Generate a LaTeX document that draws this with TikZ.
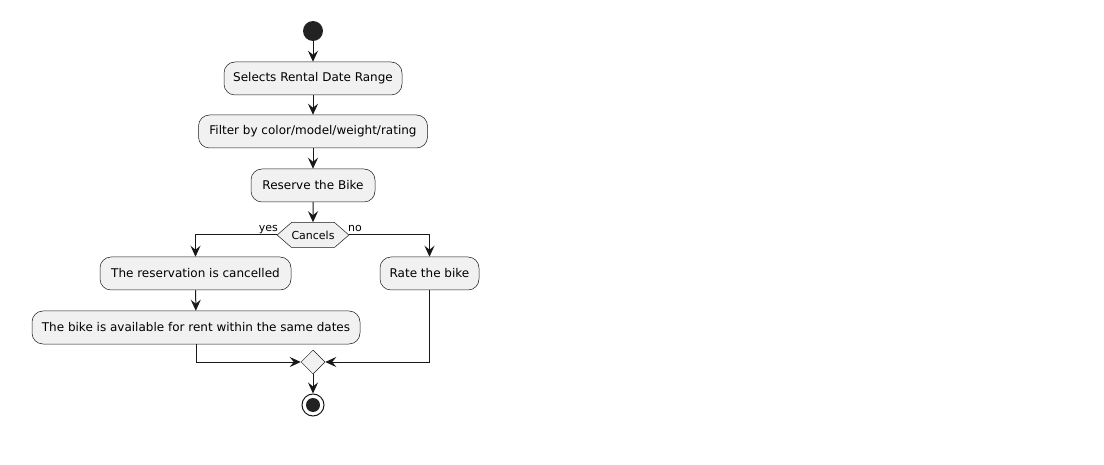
\documentclass[tikz,border=0pt]{standalone}
\usepackage{fontspec}
\setmainfont{DejaVu Sans}
\usetikzlibrary{arrows.meta,shapes.geometric,shapes.symbols}
\definecolor{boxfill}{HTML}{F1F1F1}
\definecolor{boxline}{HTML}{181818}
\definecolor{dotfill}{HTML}{222222}
\begin{document}
\begin{tikzpicture}[x=1pt,y=-1pt,
  act/.style={draw=boxline,fill=boxfill,line width=0.5pt,rounded corners=11pt,minimum height=33pt,inner xsep=0pt,font=\fontsize{12}{14}\selectfont},
  hexa/.style={draw=boxline,fill=boxfill,line width=0.5pt,signal,signal to=west and east,signal pointer angle=82,minimum height=25pt,minimum width=68pt,inner xsep=0pt,inner ysep=0pt,font=\fontsize{11}{13}\selectfont},
  merge/.style={draw=boxline,fill=boxfill,line width=0.5pt,diamond,minimum size=24pt,inner sep=0pt},
  conn/.style={draw=boxline,line width=1pt,-{Stealth[length=11pt,width=10pt,inset=4pt]}},
  lbl/.style={font=\fontsize{11}{13}\selectfont,inner sep=0pt}]
\useasboundingbox (0,0) rectangle (1104,465);
\node[circle,fill=dotfill,minimum size=20pt,inner sep=0pt] (start) at (313,31) {};
\node[act,minimum width=178pt] (sel) at (313,78.5) {Selects Rental Date Range};
\node[act,minimum width=229pt] (fil) at (313,131.5) {Filter by color/model/weight/rating};
\node[act,minimum width=124pt] (res) at (313,185.5) {Reserve the Bike};
\node[hexa] (dec) at (313,235) {Cancels};
\node[act,minimum width=191pt] (can) at (195.5,273.5) {The reservation is cancelled};
\node[act,minimum width=328pt] (avl) at (196,327.5) {The bike is available for rent within the same dates};
\node[act,minimum width=99pt] (rate) at (429.5,273.5) {Rate the bike};
\node[merge] (mrg) at (313,362) {};
\node[circle,draw=boxline,line width=1pt,fill=white,minimum size=22pt,inner sep=0pt] (stop) at (313,405) {};
\node[circle,fill=dotfill,minimum size=14pt,inner sep=0pt] at (stop.center) {};
\node[lbl,anchor=base east] (yes) at (278,232) {yes};
\node[lbl,anchor=base west] (no) at (348,232) {no};
\draw[conn] (start) -- (sel);
\draw[conn] (sel) -- (fil);
\draw[conn] (fil) -- (res);
\draw[conn] (res) -- (dec);
\draw[conn] (dec.west) -| (can.north);
\draw[conn] (dec.east) -| (rate.north);
\draw[conn] (can) -- (avl);
\draw[conn] (avl.south) |- (mrg.west);
\draw[conn] (rate.south) |- (mrg.east);
\draw[conn] (mrg) -- (stop);
\end{tikzpicture}
\end{document}
